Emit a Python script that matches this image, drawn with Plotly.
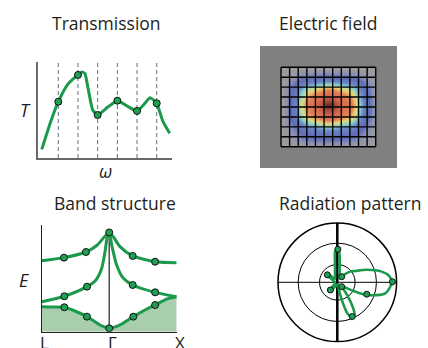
import numpy as np
import plotly.graph_objects as go

W, H = 428, 348

# ---------------- data ----------------
# Transmission panel
trans_w = [0.16, 0.6, 1.0, 1.49, 2.0, 2.2, 2.35, 2.5, 2.75, 3.0, 3.5, 4.0, 4.5, 5.0, 5.4, 5.66, 6.0, 6.32, 6.66]
trans_T = [0.09, 0.37, 0.586, 0.77, 0.865, 0.895, 0.88, 0.74, 0.5, 0.448, 0.528, 0.597, 0.54, 0.49, 0.57, 0.628, 0.57, 0.378, 0.257]
mode_w = [1, 2, 3, 4, 5, 6]
mode_T = [0.586, 0.865, 0.448, 0.597, 0.49, 0.57]

# Electric-field profiles (column and row samples, half-cell spacing)
field_x = [0.25, 0.75, 1.25, 1.75, 2.25, 2.75, 3.25, 3.75, 4.25, 4.75, 5.25,
           5.75, 6.25, 6.75, 7.25, 7.75, 8.25, 8.75, 9.25, 9.75, 10.25, 10.75]
field_cols = [0.0, 0.06, 0.18, 0.3, 0.5, 0.66, 0.75, 0.8, 0.86, 0.93, 0.99,
              0.99, 0.94, 0.88, 0.83, 0.77, 0.7, 0.56, 0.38, 0.22, 0.13, 0.03]
field_y = [0.25, 0.75, 1.25, 1.75, 2.25, 2.75, 3.25, 3.75, 4.25, 4.75, 5.25,
           5.75, 6.25, 6.75, 7.25, 7.75]
field_rows = [0.0, 0.08, 0.22, 0.45, 0.68, 0.82, 0.93, 1.0, 0.96, 0.88, 0.74,
              0.52, 0.34, 0.2, 0.12, 0.03]
mesh_cols = 11
mesh_rows = 8

# Band structure
k_ticks = [0, 1, 2]
k_labels = ["L", "Γ", "X"]
band1_k = [0, 0.33, 0.656, 0.82, 0.93, 1.0, 1.06, 1.16, 1.348, 1.68, 2.0]
band1_E = [0.665, 0.694, 0.747, 0.81, 0.89, 0.93, 0.89, 0.797, 0.71, 0.656, 0.647]
band2_k = [0, 0.335, 0.671, 0.804, 0.889, 0.938, 0.972, 1.0, 1.037, 1.11, 1.21, 1.348, 1.68, 2.0]
band2_E = [0.281, 0.332, 0.422, 0.485, 0.594, 0.75, 0.89, 0.93, 0.813, 0.625, 0.5, 0.438, 0.369, 0.328]
band3_k = [0, 0.123, 0.335, 0.519, 0.671, 0.864, 1.0, 1.16, 1.357, 1.53, 1.68, 1.85, 2.0]
band3_E = [0.234, 0.232, 0.229, 0.187, 0.141, 0.063, 0.032, 0.063, 0.141, 0.203, 0.25, 0.306, 0.328]
dots_k = [0.33, 0.656, 1.0, 1.348, 1.68, 0.335, 0.671, 1.348, 1.68, 0.335, 0.671, 1.0, 1.357, 1.68]
dots_E = [0.694, 0.747, 0.93, 0.71, 0.656, 0.332, 0.422, 0.438, 0.369, 0.229, 0.141, 0.032, 0.141, 0.25]

# Radiation pattern r(theta)
rad_theta = [-90, -80, -77, -75, -72, -67, -62, -57, -52, -46, -40,
             -33, -28, -23, -13, 0, 7, 13.5, 23, 32, 40, 47, 52, 58, 64,
             71, 78, 82, 85, 89.5, 92, 94.4, 96.7, 100, 103, 112, 125,
             132, 137, 141, 146, 152, 165, 190, 215, 222, 230, 236, 245, 260, 270]
rad_r = [0.04, 0.06, 0.2, 0.35, 0.55, 0.64, 0.62, 0.45, 0.26, 0.12, 0.09,
         0.16, 0.31, 0.55, 0.83, 0.92, 0.88, 0.77, 0.54, 0.36, 0.28, 0.18, 0.12, 0.08, 0.08,
         0.12, 0.2, 0.285, 0.45, 0.585, 0.56, 0.51, 0.34, 0.22, 0.17, 0.1, 0.07,
         0.1, 0.17, 0.22, 0.18, 0.1, 0.05, 0.04, 0.06, 0.12, 0.17, 0.13, 0.07, 0.04, 0.04]
rad_dot_theta = [89, 143, 52, 0.6, 228, 315, 338, 293.6]
rad_dot_r = [0.557, 0.21, 0.12, 0.93, 0.175, 0.105, 0.535, 0.63]
rad_rings = [0.3, 0.66]

# ---------------- style ----------------
GREEN = "#1b9a4c"
DOT = dict(color="#1fa052", size=7, line=dict(color="#111", width=1))
TXT = "#231f20"
FONT = "Open Sans"


def px_x(p):
    return p / W


def px_y(p):
    return 1 - p / H


fig = go.Figure()

# ---- Transmission ----
dash_x, dash_y = [], []
for w in mode_w:
    dash_x += [w, w, None]
    dash_y += [0, 1, None]
fig.add_trace(go.Scatter(x=dash_x, y=dash_y, mode="lines", xaxis="x", yaxis="y",
                         line=dict(color="#5b7182", width=1, dash="4px,3px"),
                         hoverinfo="skip", showlegend=False))
fig.add_trace(go.Scatter(x=trans_w, y=trans_T, mode="lines", xaxis="x", yaxis="y",
                         line=dict(color=GREEN, width=3, shape="spline", smoothing=0.5),
                         showlegend=False))
fig.add_trace(go.Scatter(x=mode_w, y=mode_T, mode="markers", xaxis="x", yaxis="y",
                         marker=DOT, showlegend=False))

# ---- Electric field ----
z = np.outer(field_rows, field_cols)
colorscale = [
    [0.0, "#9c9c9c"], [0.05, "#8a90b4"], [0.12, "#5f6cb6"], [0.3, "#6a86c4"],
    [0.4, "#80c6d2"], [0.48, "#b0d8a8"], [0.55, "#e2dc7a"], [0.62, "#eab262"],
    [0.68, "#e2845c"], [0.84, "#d6674e"], [0.94, "#a84c3c"], [1.0, "#5e2a1e"],
]
fig.add_trace(go.Heatmap(x=field_x, y=field_y, z=z, xaxis="x2", yaxis="y2",
                         colorscale=colorscale, zmin=0, zmax=1, zsmooth="best",
                         showscale=False, hoverinfo="skip"))
gx, gy = [], []
for c in range(mesh_cols + 1):
    gx += [c, c, None]
    gy += [0, mesh_rows, None]
for r in range(mesh_rows + 1):
    gx += [0, mesh_cols, None]
    gy += [r, r, None]
fig.add_trace(go.Scatter(x=gx, y=gy, mode="lines", xaxis="x2", yaxis="y2",
                         line=dict(color="#000", width=1.4),
                         hoverinfo="skip", showlegend=False))

# ---- Band structure ----
fig.add_trace(go.Scatter(x=[k_ticks[1], k_ticks[1]], y=[0, max(band1_E)], mode="lines",
                         xaxis="x3", yaxis="y3", line=dict(color="#222", width=1.2),
                         hoverinfo="skip", showlegend=False))
fig.add_trace(go.Scatter(x=band3_k, y=band3_E, mode="lines", xaxis="x3", yaxis="y3",
                         fill="tozeroy", fillcolor="#a9cead",
                         line=dict(color=GREEN, width=3, shape="spline", smoothing=0.7),
                         showlegend=False))
for bk, bE in [(band1_k, band1_E), (band2_k, band2_E)]:
    fig.add_trace(go.Scatter(x=bk, y=bE, mode="lines", xaxis="x3", yaxis="y3",
                             line=dict(color=GREEN, width=3, shape="spline", smoothing=0.7),
                             showlegend=False))
fig.add_trace(go.Scatter(x=dots_k, y=dots_E, mode="markers", xaxis="x3", yaxis="y3",
                         marker=dict(DOT, size=7), showlegend=False))

# ---- Radiation pattern ----
fig.add_trace(go.Scatterpolar(r=[1, 0, 1], theta=[90, 0, 270], mode="lines",
                              line=dict(color="#000", width=2.5),
                              hoverinfo="skip", showlegend=False))
fig.add_trace(go.Scatterpolar(r=rad_r, theta=rad_theta, mode="lines",
                              line=dict(color=GREEN, width=2.6, shape="spline", smoothing=0.8),
                              showlegend=False))
fig.add_trace(go.Scatterpolar(r=rad_dot_r, theta=rad_dot_theta, mode="markers",
                              marker=dict(DOT, size=6), showlegend=False))

fig.update_layout(
    width=W, height=H, margin=dict(l=0, r=0, t=0, b=0, autoexpand=False),
    paper_bgcolor="white", plot_bgcolor="rgba(0,0,0,0)",
    font=dict(family=FONT, color=TXT),
    xaxis=dict(domain=[px_x(37.5), px_x(172)], range=[-0.057, 6.777], anchor="y",
               showgrid=False, zeroline=False, showticklabels=False, automargin=False,
               showline=True, linecolor="#6b6b6b", linewidth=1.5, fixedrange=True),
    yaxis=dict(domain=[px_y(158), px_y(62)], range=[0, 1], anchor="x",
               showgrid=False, zeroline=False, showticklabels=False, automargin=False,
               showline=True, linecolor="#6b6b6b", linewidth=1.5, fixedrange=True),
    xaxis2=dict(domain=[px_x(260), px_x(397)], range=[-2.44, 13.47], anchor="y2",
                visible=False, fixedrange=True, automargin=False),
    yaxis2=dict(domain=[px_y(168), px_y(46)], range=[10.146, -2.146], anchor="x2",
                visible=False, fixedrange=True, automargin=False),
    xaxis3=dict(domain=[px_x(41.7), px_x(176.7)], range=[0, 2], anchor="y3",
                showgrid=False, zeroline=False, showticklabels=False, ticks="",
                automargin=False,
                showline=True, linecolor="#222", linewidth=1.3, fixedrange=True),
    yaxis3=dict(domain=[px_y(331.7), px_y(225)], range=[0, 1], anchor="x3",
                showgrid=False, zeroline=False, showticklabels=False, automargin=False,
                showline=True, linecolor="#222", linewidth=1.3, fixedrange=True),
    polar=dict(
        domain=dict(x=[px_x(278), px_x(396.6)], y=[px_y(341.6), px_y(223)]),
        bgcolor="white",
        radialaxis=dict(range=[0, 1], tickvals=rad_rings, showticklabels=False,
                        ticks="", showline=False, showgrid=True,
                        gridcolor="#000", gridwidth=1.3),
        angularaxis=dict(tickvals=[0, 90, 180, 270], showticklabels=False, ticks="",
                         showgrid=True, gridcolor="#000", gridwidth=1.3,
                         showline=True, linecolor="#000", linewidth=1.5),
    ),
    shapes=[dict(type="rect", xref="x2 domain", yref="y2 domain",
                 x0=0, x1=1, y0=0, y1=1, fillcolor="#808080",
                 line=dict(width=0), layer="below")],
)

ann = []
for text, cx, cy in [("Transmission", 106, 22.5), ("Electric field", 328, 22.5),
                     ("Band structure", 114.5, 202.5), ("Radiation pattern", 350, 202.5)]:
    ann.append(dict(text=text, x=px_x(cx), y=px_y(cy), xref="paper", yref="paper",
                    showarrow=False, xanchor="center", yanchor="middle",
                    font=dict(size=17.5, color=TXT, family=FONT)))
for text, cx, cy in [("T", 25, 110), ("ω", 105, 171), ("E", 24, 280)]:
    ann.append(dict(text="<i>%s</i>" % text, x=px_x(cx), y=px_y(cy), xref="paper", yref="paper",
                    showarrow=False, xanchor="center", yanchor="middle",
                    font=dict(size=18, color=TXT, family=FONT)))
# k-point labels under the band diagram (placed on the x3 axis scale)
for kv, lab in zip(k_ticks, k_labels):
    ann.append(dict(text=lab, x=kv, y=px_y(328.5), xref="x3", yref="paper",
                    showarrow=False, xanchor="center", yanchor="top", xshift=3,
                    font=dict(size=17, color=TXT, family=FONT)))
fig.update_layout(annotations=ann)

fig.write_html("out.html")
